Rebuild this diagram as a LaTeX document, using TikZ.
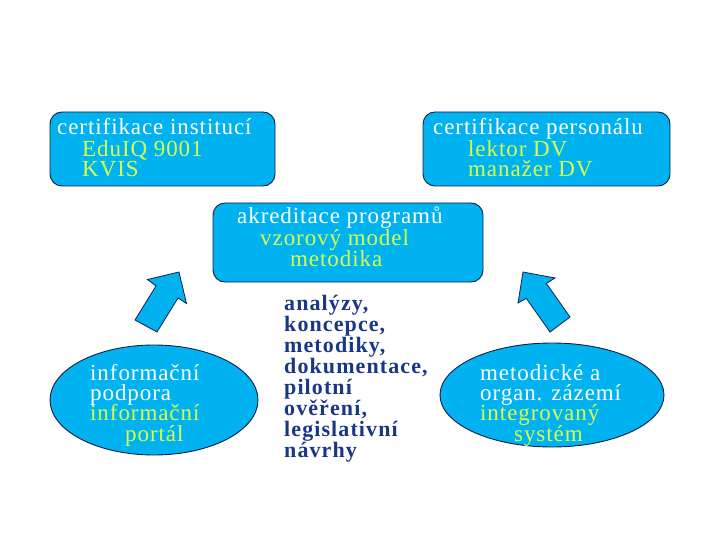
\documentclass[tikz,border=0pt]{standalone}
\usepackage{fontspec}
\setmainfont{Liberation Serif}
\definecolor{boxcyan}{RGB}{0,178,240}
\definecolor{boxline}{RGB}{20,30,70}
\definecolor{hiyellow}{RGB}{215,255,75}
\definecolor{navytext}{RGB}{25,55,135}
\tikzset{
  roundbox/.style={draw=boxline, line width=0.9pt, fill=boxcyan, rounded corners=12pt},
  blockarrow/.style={draw=boxline, line width=0.8pt, fill=boxcyan, line join=miter},
  txt/.style={anchor=base west, inner sep=0pt, font=\fontsize{23}{23}\selectfont\addfontfeature{LetterSpace=4}},
  wtxt/.style={txt, text=white},
  ytxt/.style={txt, text=hiyellow},
  ntxt/.style={anchor=base west, inner sep=0pt, text=navytext, font=\fontsize{22}{22}\selectfont\bfseries\addfontfeature{LetterSpace=5}}
}
\begin{document}
\begin{tikzpicture}[x=1pt,y=-1pt]
\useasboundingbox (0,0) rectangle (720,540);
% boxes
\draw[roundbox] (50,112) rectangle (275,186);
\draw[roundbox] (423,112) rectangle (670,186);
\draw[roundbox] (213,203) rectangle (483,282);
% ellipses
\draw[roundbox] (154,400) ellipse [x radius=104, y radius=55];
\draw[roundbox] (552,395) ellipse [x radius=112, y radius=52];
% block arrows
\draw[blockarrow] (135,320) -- (156,286) -- (147.5,279.5) -- (179,272) -- (186.5,303.5) -- (178,298) -- (157,332) -- cycle;
\draw[blockarrow] (550,332) -- (526.3,298.4) -- (518,303) -- (523,272) -- (555,278) -- (546.3,283.4) -- (570,317) -- cycle;
% top-left text
\node[wtxt] (tl1) at (57,135) {certifikace institucí};
\node[ytxt] (tl2) at (82,156.5) {EduIQ 9001};
\node[ytxt] (tl3) at (82,177) {KVIS};
% top-right text
\node[wtxt] (tr1) at (433,135) {certifikace personálu};
\node[ytxt] (tr2) at (468,156.5) {lektor DV};
\node[ytxt] (tr3) at (468,177) {manažer DV};
% middle box text
\node[wtxt] (m1) at (237,224) {akreditace programů};
\node[ytxt] (m2) at (260,245) {vzorový model};
\node[ytxt] (m3) at (290,266) {metodika};
% left ellipse text
\node[wtxt] (l1) at (90,380) {informační};
\node[wtxt] (l2) at (90,400.5) {podpora};
\node[ytxt] (l3) at (90,420) {informační};
\node[ytxt] (l4) at (125,441) {portál};
% right ellipse text
\node[wtxt] (r1) at (480,380) {metodické a};
\node[wtxt] (r2) at (480,400.5) {organ. zázemí};
\node[ytxt] (r3) at (480,420) {integrovaný};
\node[ytxt] (r4) at (514,441) {systém};
% middle list
\node[ntxt] (c1) at (284,310) {analýzy,};
\node[ntxt] (c2) at (284,331) {koncepce,};
\node[ntxt] (c3) at (284,352) {metodiky,};
\node[ntxt] (c4) at (284,373) {dokumentace,};
\node[ntxt] (c5) at (284,394) {pilotní};
\node[ntxt] (c6) at (284,415) {ověření,};
\node[ntxt] (c7) at (284,436) {legislativní};
\node[ntxt] (c8) at (284,457) {návrhy};
\end{tikzpicture}
\end{document}
